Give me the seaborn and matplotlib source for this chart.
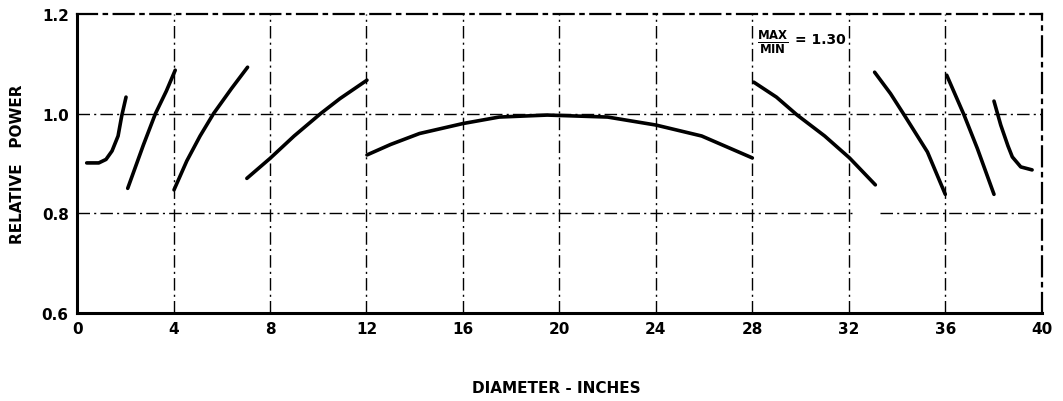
import matplotlib
matplotlib.use("Agg")
import matplotlib.pyplot as plt
import seaborn as sns
import pandas as pd

# Relative power across the diameter, one branch per fuel zone
seg1_x = [0.4, 0.9, 1.2, 1.45, 1.7, 1.85, 2.03]
seg1_y = [0.901, 0.901, 0.908, 0.925, 0.955, 0.995, 1.033]
seg2_x = [2.1, 2.75, 3.25, 3.7, 4.07]
seg2_y = [0.850, 0.937, 1.000, 1.045, 1.087]
seg3_x = [4.02, 4.55, 5.1, 5.66, 6.4, 7.07]
seg3_y = [0.847, 0.905, 0.955, 1.000, 1.050, 1.093]
seg4_x = [7.04, 8.0, 9.0, 10.1, 10.9, 12.02]
seg4_y = [0.870, 0.910, 0.955, 1.000, 1.030, 1.067]
seg5_x = [12.02, 13.0, 14.2, 16.0, 17.5, 19.5, 22.0, 24.0, 25.9, 28.0]
seg5_y = [0.917, 0.938, 0.960, 0.980, 0.993, 0.997, 0.993, 0.977, 0.955, 0.911]
seg6_x = [28.06, 29.0, 29.86, 31.0, 32.03, 33.1]
seg6_y = [1.063, 1.033, 0.997, 0.955, 0.911, 0.857]
seg7_x = [33.07, 33.73, 34.3, 35.26, 36.0]
seg7_y = [1.083, 1.040, 0.997, 0.923, 0.838]
seg8_x = [36.06, 36.78, 37.33, 38.02]
seg8_y = [1.077, 0.997, 0.930, 0.838]
seg9_x = [38.02, 38.3, 38.6, 38.78, 39.13, 39.6]
seg9_y = [1.025, 0.977, 0.935, 0.913, 0.893, 0.887]

x_ticks = [0, 4, 8, 12, 16, 20, 24, 28, 32, 36, 40]
y_ticks = [0.6, 0.8, 1.0, 1.2]
y_tick_labels = ["0.6", "0.8", "1.0", "1.2"]
ratio_text = "= 1.30"

segments = [(seg1_x, seg1_y), (seg2_x, seg2_y), (seg3_x, seg3_y),
            (seg4_x, seg4_y), (seg5_x, seg5_y), (seg6_x, seg6_y),
            (seg7_x, seg7_y), (seg8_x, seg8_y), (seg9_x, seg9_y)]
frames = []
for i, (xs, ys) in enumerate(segments):
    frames.append(pd.DataFrame({"diameter": xs, "power": ys, "zone": i}))
df = pd.concat(frames, ignore_index=True)

sns.set_theme(style="white")
plt.rcParams["font.family"] = ["DejaVu Sans"]
plt.rcParams["text.color"] = "black"
plt.rcParams["axes.labelcolor"] = "black"

fig, ax = plt.subplots(figsize=(10.63, 4.02), dpi=100)
fig.subplots_adjust(left=0.0725, right=0.980, bottom=0.219, top=0.963)

grid_style = (0, (9, 3, 1.5, 3))
for xv in x_ticks[1:-1]:
    ax.axvline(xv, color="black", lw=1.0, ls=grid_style, zorder=1)
ax.axhline(1.0, color="black", lw=1.0, ls=grid_style, zorder=1)
# the 0.8 rule is broken just past the 32-inch line
ax.hlines(0.8, 0, 32.3, color="black", lw=1.0, ls=grid_style, zorder=1)
ax.hlines(0.8, 33.3, 40, color="black", lw=1.0, ls=grid_style, zorder=1)

sns.lineplot(data=df, x="diameter", y="power", units="zone", estimator=None,
             sort=False, color="black", lw=2.6, ax=ax, zorder=3)

ax.set_xlim(0, 40)
ax.set_ylim(0.6, 1.2)
ax.set_xticks(x_ticks)
ax.set_xticklabels([str(t) for t in x_ticks], fontweight="bold", fontsize=11)
ax.set_yticks(y_ticks)
ax.set_yticklabels(y_tick_labels, fontweight="bold", fontsize=11)
ax.tick_params(axis="both", length=0, pad=6, colors="black")

for side in ["left", "bottom"]:
    ax.spines[side].set_linewidth(2.2)
    ax.spines[side].set_color("black")
for side in ["top", "right"]:
    ax.spines[side].set_linewidth(1.6)
    ax.spines[side].set_color("black")
    ax.spines[side].set_linestyle(grid_style)

ax.set_ylabel("RELATIVE   POWER", fontweight="bold", fontsize=11,
              va="center")
ax.yaxis.set_label_coords(-0.062, 0.5)
ax.set_xlabel("DIAMETER - INCHES", fontweight="bold", fontsize=11,
              va="center")
ax.xaxis.set_label_coords(0.497, -0.248)

ax.text(28.2, 1.145, r"$\frac{\mathbf{MAX}}{\mathbf{MIN}}$", fontsize=12,
        va="center", ha="left")
ax.text(29.75, 1.15, ratio_text, fontsize=10, fontweight="bold",
        va="center", ha="left")

fig.savefig("out.png", dpi=100)
